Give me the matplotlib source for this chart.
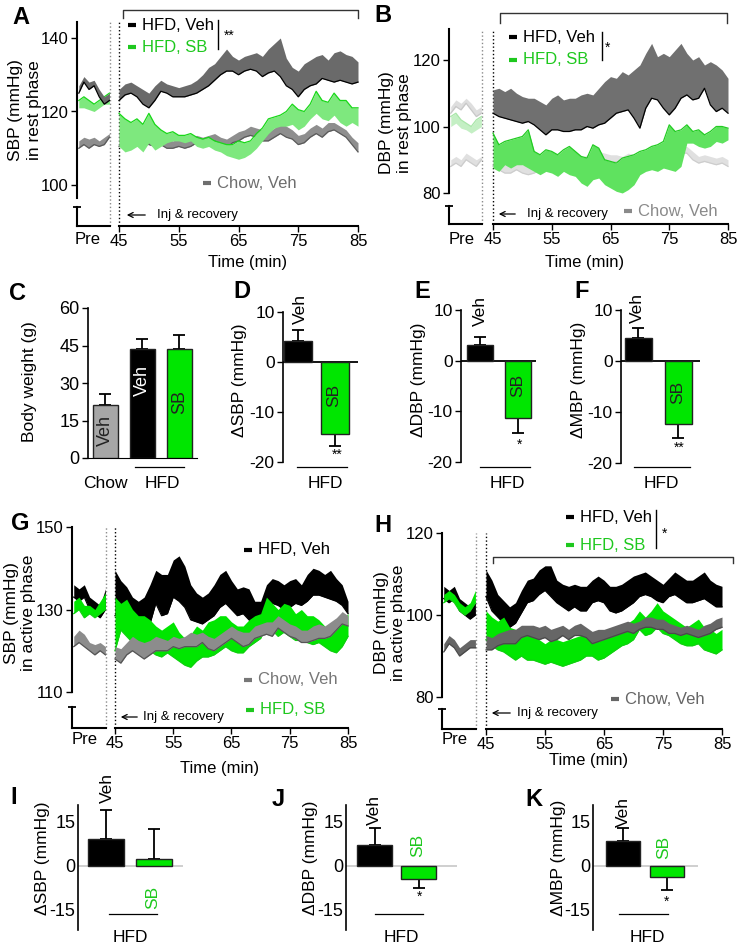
import numpy as np
import matplotlib
matplotlib.use("Agg")
import matplotlib.pyplot as plt
from matplotlib.lines import Line2D
from matplotlib.patches import FancyArrowPatch

plt.rcParams['font.family'] = ['Liberation Sans', 'DejaVu Sans']
plt.rcParams['axes.unicode_minus'] = False

# ---------------- data ----------------
MINUTES = list(range(45, 86))   # one reading per minute after the injection
PRE_N = 7                       # readings shown in the "Pre" window

# A: SBP, rest phase
A_VEH_MEAN = [123, 124.5, 125, 124, 122, 121, 123, 125.5, 125, 124,
              124, 124, 124.5, 125, 126, 127, 128.5, 130, 131, 131,
              130, 131, 131.5, 131, 129.5, 130.5, 131, 129.5, 127, 126,
              124, 126, 127, 127.5, 129, 128.5, 128, 128.5, 128, 127.5, 128]
A_VEH_HI = [126, 127.5, 128, 127, 126, 125, 127, 128.5, 127.5, 127,
            126.5, 127, 127.5, 128.5, 130, 132, 133, 135, 137, 135,
            134, 135, 135.5, 136, 135, 137, 138.5, 140, 134.5, 132,
            131, 133, 134, 135, 135.5, 134, 136, 136.5, 135.5, 135, 133.5]
A_SB_MEAN = [119.5, 118, 117, 118, 116.5, 119.5, 116.5, 115, 114, 114.5,
             113.5, 113.5, 114, 113, 112.5, 113, 112, 111.5, 111, 111,
             112, 111.5, 112, 114, 115.5, 118, 118.5, 119, 120, 122,
             120.5, 120, 122, 125.5, 123, 122.5, 125, 123, 123, 121, 121]
A_SB_LO = [110.5, 109, 109.5, 110.5, 109, 111.5, 109.5, 110.5, 111.5, 112,
           112, 111.5, 112, 110.5, 110, 110.5, 109.5, 109, 108, 107.5,
           107, 107.5, 108.5, 110, 112, 114, 115.5, 116, 116, 116.5,
           115, 116, 118, 119.5, 118, 117.5, 119, 117, 116, 117, 116]
A_CHOW_MEAN = [110.5, 111, 111, 111.5, 111.5, 111, 110.5, 111, 110, 110,
               110.5, 110, 110.5, 111.5, 111, 111.5, 112, 111, 110, 111.5,
               112, 113, 113.5, 113, 112, 112, 113, 114, 113, 112.5,
               111, 111.5, 113, 114, 113, 114.5, 115, 114, 113, 111, 109]
A_CHOW_HI = [114, 115, 115.5, 114.5, 114, 113.5, 113, 113, 112.5, 112,
             112.5, 112, 113, 113.5, 113, 113.5, 114, 113, 112.5, 113.5,
             114.5, 115, 116, 115.5, 115, 114.5, 115.5, 117, 116, 115,
             113.5, 114, 115.5, 116.5, 115.5, 117, 117, 116, 115, 113, 111.5]
A_PRE_VEH_MEAN = [125, 128, 126, 127, 124, 122, 123]
A_PRE_VEH_HI = [127, 129.5, 128, 128.5, 126, 124, 125]
A_PRE_SB_MEAN = [123, 124, 123, 122, 123, 124, 125]
A_PRE_SB_LO = [121, 121, 120.5, 120, 121, 122, 122]
A_PRE_CHOW_MEAN = [110, 111, 110, 111, 110.5, 111, 113]
A_PRE_CHOW_HI = [112, 113, 112.5, 113, 112, 113, 114]

# B: DBP, rest phase
B_VEH_MEAN = [104, 103, 102.5, 102, 101.5, 101, 101.5, 100.5, 99, 97.5,
              99, 99, 98.5, 98.5, 99, 99, 100, 99.5, 100.5, 101,
              102.5, 104, 104.5, 105, 102.5, 99.5, 105.5, 108.5, 108, 105.5,
              103.5, 105.5, 108.5, 109.5, 108, 108.5, 111.5, 106.5, 104.5, 105.5, 104]
B_VEH_HI = [111, 111.5, 110.5, 111.5, 110, 109, 108.5, 108.5, 107.5, 106.5,
            108.5, 109.5, 108, 108.5, 108.5, 109.5, 110, 109.5, 111.5, 113.5,
            115, 114.5, 116.5, 115.5, 117, 118.5, 122, 125, 121, 122,
            121, 123, 125, 122, 120, 121, 118.5, 119.5, 118.5, 117, 114.5]
B_SB_MEAN = [98, 94.5, 95.5, 96, 96.5, 97, 99, 92.5, 91.5, 93,
             92.5, 91.5, 93, 94, 92.5, 91, 90.5, 94.5, 93.5, 90,
             89.5, 89, 90.5, 91, 91.5, 92.5, 93, 94, 94.5, 95.5,
             100.5, 98.5, 99, 100.5, 98.5, 99, 97.5, 98.5, 100, 100, 99.5]
B_SB_LO = [87.5, 86.5, 88.5, 87.5, 88.5, 88.5, 87.5, 86.5, 85.5, 86.5,
           86, 85, 86.5, 85.5, 85, 83, 82, 84, 84.5, 82.5,
           81.5, 80.5, 80, 81, 82.5, 85.5, 86.5, 87, 86.5, 87.5,
           87, 86.5, 88, 95, 95, 94, 93.5, 94, 95.5, 95, 96]
B_CHOW_MEAN = [88, 87, 86, 86, 87, 86, 85.5, 86, 87, 88,
               88.5, 89, 89.5, 89, 89, 88.5, 89, 90, 90.5, 90,
               89, 89.5, 89, 90, 89.5, 89, 89, 89.5, 89, 88.5,
               90, 91, 92, 92, 90, 89, 89.5, 89, 88.5, 89, 88]
B_CHOW_HI = [90, 89.5, 88.5, 88, 89, 88.5, 88, 88.5, 89, 90,
             91, 91.5, 91.5, 91, 91, 90.5, 91.5, 92, 92.5, 92,
             91.5, 91.5, 91, 92, 91.5, 91, 91.5, 91.5, 91, 91,
             92, 93, 94, 94, 92.5, 91, 91.5, 91, 90.5, 91, 90]
B_PRE_VEH_MEAN = [104, 106, 105, 107, 105, 103, 104]
B_PRE_VEH_HI = [106, 108, 107, 108.5, 107, 105, 106]
B_PRE_SB_MEAN = [103, 104, 102, 101, 100, 102, 103]
B_PRE_SB_LO = [100, 101, 99.5, 99, 98, 99, 100]
B_PRE_CHOW_MEAN = [88, 89, 88, 90, 89, 88, 90]
B_PRE_CHOW_HI = [90, 91, 90, 92, 91, 90, 91]

# G: SBP, active phase
G_VEH_LO = [128.5, 130, 129, 126.5, 125, 124, 126.5, 131.5, 128.5, 129,
            133, 132, 130.5, 127.5, 127, 126.5, 127.5, 128.5, 130.5, 131.5,
            130, 128.5, 129, 127.5, 126, 124.5, 128.5, 131.5, 131, 130,
            130.5, 131.5, 131, 132, 133.5, 133.5, 133, 132.5, 132, 131, 129]
G_VEH_HI = [139.5, 137, 135.5, 133, 132, 133, 136, 139.5, 138.5, 138.5,
            142, 143, 140.5, 136, 134, 133, 134, 136, 138.5, 139.5,
            137, 135, 135.5, 135, 132, 132, 136, 137.5, 137, 136,
            137, 137.5, 136, 138.5, 140, 139.5, 138.5, 139.5, 137.5, 136, 132]
G_SB_HI = [133, 131.5, 132.5, 130, 128.5, 128.5, 127.5, 126, 125, 126,
           127, 124.5, 123, 124, 126, 125, 127, 127.5, 128.5, 128.5,
           127, 126, 126, 127.5, 128.5, 129, 133, 131.5, 130, 131.5,
           131, 129, 130, 128.5, 128.5, 127.5, 126, 124.5, 126, 127.5, 129]
G_SB_LO = [120, 125, 123.5, 122, 120, 120, 120, 119, 118.5, 119.5,
           118.5, 117.5, 116.5, 116, 117.5, 118.5, 118.5, 119, 120, 121,
           120, 119.5, 119.5, 121, 122, 123, 126, 125, 123.5, 124.5,
           123.5, 122.5, 122.5, 122, 121.5, 122, 121, 120, 119.5, 121, 123.5]
G_CHOW_HI = [121, 120.5, 122, 123.5, 122.5, 122, 122.5, 123.5, 123, 122.5,
             123.5, 123, 123.5, 124.5, 124, 124.5, 123.5, 123, 124, 125,
             126, 125, 124.5, 124.5, 126, 126.5, 127, 127, 128.5, 127.5,
             126.5, 126, 125, 125, 126, 126.5, 126, 127, 128, 129.5, 128.5]
G_CHOW_LO = [118, 117, 119, 120, 119, 118, 119, 120, 120, 120,
             121, 120.5, 121, 121, 121, 122, 120.5, 120, 121, 122,
             123, 122, 121, 121.5, 123, 123.5, 124, 123.5, 125.5, 124.5,
             123.5, 123, 122, 122, 122.5, 123, 123, 123.5, 125, 126.5, 126]
G_PRE_VEH_LO = [133, 132, 133, 130, 129, 128, 130]
G_PRE_VEH_HI = [136, 135, 136, 133, 132, 131, 135]
G_PRE_SB_LO = [129, 130, 128, 129, 128, 129, 130]
G_PRE_SB_HI = [132, 133, 131, 131, 130, 132, 134]
G_PRE_CHOW_LO = [121, 122, 121, 120, 119, 120, 119]
G_PRE_CHOW_HI = [123.5, 125, 124, 122, 121.5, 122, 121]

# H: DBP, active phase
H_VEH_LO = [104.5, 101, 99.5, 98, 97, 98, 100.5, 103, 103.5, 105,
            106, 104.5, 103, 102, 101, 102, 101, 101, 103, 103.5,
            103, 101, 100.5, 101, 102, 103, 104.5, 105, 104.5, 103.5,
            103, 104.5, 105, 104, 103, 103, 103.5, 104, 103, 102, 102]
H_VEH_HI = [111, 108.5, 105, 103.5, 102, 103, 106, 108.5, 109, 111,
            112, 112, 108.5, 107.5, 107, 107.5, 107, 107, 108.5, 109.5,
            108.5, 107, 107, 107.5, 108.5, 109.5, 110, 110.5, 109.5, 108.5,
            107.5, 109, 110.5, 109.5, 108.5, 108.5, 109.5, 110.5, 108.5, 107.5, 107]
H_SB_HI = [101, 99.5, 98.5, 99.5, 97, 96.5, 95.5, 95, 95, 94,
           93, 94, 94, 93.5, 94, 94.5, 95, 95.5, 95.5, 95,
           95.5, 96, 96.5, 97, 98, 99, 101, 99.5, 101, 103,
           101, 100, 99, 98, 97, 98, 99, 97, 96.5, 95.5, 96.5]
H_SB_LO = [94, 92.5, 91.5, 91, 90, 89, 90, 89, 89, 88.5,
           88, 88.5, 88, 87.5, 88, 88.5, 89, 90, 90, 89,
           89.5, 90.5, 91.5, 92.5, 93, 94, 96.5, 95, 95.5, 97,
           95.5, 95, 94, 93, 92.5, 92.5, 93, 91.5, 91, 90.5, 91.5]
H_CHOW_HI = [95, 94.5, 95.5, 96, 96.5, 96.5, 97.5, 97.5, 97.5, 97,
             97.5, 96.5, 97, 97.5, 96.5, 97.5, 98, 97, 96, 96.5,
             96.5, 97, 97.5, 98, 98.5, 98, 98.5, 99.5, 99.5, 99,
             99, 98, 97.5, 97, 97.5, 97, 96.5, 97.5, 98, 99, 99.5]
H_CHOW_LO = [91.5, 91.5, 92.5, 93, 93, 93, 94.5, 95, 94.5, 94,
             94.5, 93.5, 94, 95, 94, 95, 95, 94.5, 93, 93.5,
             94, 94.5, 95, 95.5, 96, 95.5, 96.5, 97, 97, 96.5,
             96.5, 95.5, 95.5, 95, 95.5, 95, 94.5, 95, 95.5, 96.5, 97]
H_PRE_VEH_LO = [104, 103, 104, 101, 100, 99, 100]
H_PRE_VEH_HI = [107, 106, 107, 104, 103, 102, 103]
H_PRE_SB_LO = [103, 104, 103, 101, 100, 101, 103]
H_PRE_SB_HI = [105, 106, 105, 103, 102, 103, 106]
H_PRE_CHOW_LO = [91, 93, 92, 90, 91, 92, 92]
H_PRE_CHOW_HI = [93, 95, 94, 92, 93, 94, 94]

# bar panels
C_GROUPS = ["Veh", "Veh", "SB"]
C_VALUES = [21.3, 43.6, 43.6]
C_ERR = [4.3, 4.2, 5.8]
D_VALUES, D_ERR = [4.2, -14.4], [2.2, 2.4]
E_VALUES, E_ERR = [3.1, -11.4], [1.6, 2.9]
F_VALUES, F_ERR = [4.6, -12.3], [1.8, 2.8]
I_VALUES, I_ERR = [9.0, 2.4], [10.3, 10.3]
J_VALUES, J_ERR = [6.9, -4.5], [6.2, 3.1]
K_VALUES, K_ERR = [8.3, -3.8], [4.5, 4.8]

GREEN = "#00e600"
GREEN_TXT = "#1ec81e"

# ---------------- figure ----------------
W, H = 743, 949
fig = plt.figure(figsize=(W / 100, H / 100), dpi=100)


def fx(x):
    return x / W


def fy(y):
    return 1 - y / H


def text(x, y, s, **kw):
    kw.setdefault("ha", "center")
    kw.setdefault("va", "center")
    fig.text(fx(x), fy(y), s, **kw)


def line(xs, ys, **kw):
    kw.setdefault("color", "k")
    kw.setdefault("lw", 1)
    fig.add_artist(Line2D([fx(v) for v in xs], [fy(v) for v in ys],
                          transform=fig.transFigure, **kw))


def arrow(x_tail, x_head, y):
    fig.add_artist(FancyArrowPatch((fx(x_tail), fy(y)), (fx(x_head), fy(y)),
                                   transform=fig.transFigure, arrowstyle="->",
                                   mutation_scale=9, lw=0.9, color="k"))


def key(x, y, label, color):
    line([x, x + 8], [y, y], color=color, lw=3, solid_capstyle="butt")
    text(x + 14, y, label, color=color, ha="left", fontsize=12)


def band(ax, x, lo, hi, face, edge, edge_on, z):
    ax.fill_between(x, lo, hi, color=face, lw=0, zorder=z)
    ax.plot(x, lo if edge_on == "lo" else hi, color=edge, lw=0.9, zorder=z + 0.5)


def ts_panel(box, yref, yticks, series):
    left, pre_end, t45, t85 = box["axis"], box["pre_end"], box["t45"], box["t85"]
    top, low, stub, base = box["top"], box["low"], box["stub"], box["base"]
    ppm = (t85 - t45) / 40.0
    (v1, p1), (v2, p2) = yref
    ppv = (p2 - p1) / (v1 - v2)

    def val(p):
        return v2 - (p - p2) / ppv

    right = t85 + 3
    ax = fig.add_axes([fx(left), fy(base), (right - left) / W, (base - top) / H])
    xlo = 45 - (t45 - left) / ppm
    xpre = 45 - (t45 - pre_end) / ppm
    ax.set_xlim(xlo, 85 + 3 / ppm)
    ax.set_ylim(val(base), val(top))
    pre_x = np.linspace(xlo + 0.3, xpre - 0.1, PRE_N)

    ax.axvline(xpre, color="#8a8a8a", ls=":", lw=1, zorder=1)
    ax.axvline(45, color="k", ls=":", lw=1, zorder=1)
    for i, s in enumerate(series):
        z = 2 + 2 * i
        band(ax, pre_x, s["pre_lo"], s["pre_hi"], s.get("pre_face", s["face"]),
             s.get("pre_edge", s["edge"]), s["on"], z)
        band(ax, MINUTES, s["lo"], s["hi"], s["face"], s["edge"], s["on"], z)

    for k in ("top", "right"):
        ax.spines[k].set_visible(False)
    ax.spines["left"].set_bounds(val(low), val(top))
    ax.spines["bottom"].set_bounds(45, 85)
    for k in ("left", "bottom"):
        ax.spines[k].set_linewidth(1.5)
    ax.plot([xlo, xlo], [val(stub), val(base)], color="k", lw=1.5, clip_on=False)
    ax.plot([xlo], [val(stub)], marker="_", ms=6, mew=1.3, color="k", clip_on=False)
    ax.plot([xlo, xpre], [val(base)] * 2, color="k", lw=1.5, clip_on=False)
    ax.set_xticks([45, 55, 65, 75, 85])
    ax.set_yticks(yticks)
    ax.tick_params(length=4, width=1, labelsize=12, pad=2)
    return ax


def bar_panel(box, ylim, centers, width, values, errs, colors, zero="k",
              tick_size=13, yticks=None, text_ticks=True):
    left, right, top, bottom = box
    ax = fig.add_axes([fx(left), fy(bottom), (right - left) / W, (bottom - top) / H])
    step = centers[1] - centers[0]
    ax.set_xlim((left - centers[0]) / step, (right - centers[0]) / step)
    ax.set_ylim(*ylim)
    x = np.arange(len(values))
    ax.bar(x, values, width=width / step, color=colors, edgecolor="#222222",
           lw=1, zorder=3)
    for i, (v, e) in enumerate(zip(values, errs)):
        yerr = [[0], [e]] if v >= 0 else [[e], [0]]
        ax.errorbar(i, v, yerr=yerr, fmt="none", ecolor="k", elinewidth=1.3,
                    capsize=4, capthick=1.3, zorder=2)
    for k in ("top", "right"):
        ax.spines[k].set_visible(False)
    if zero is not None:
        ax.spines["bottom"].set_visible(False)
        ax.axhline(0, color=zero, lw=1.3, zorder=1)
    ax.spines["left"].set_linewidth(1.2)
    ax.set_xticks([])
    if yticks is not None:
        ax.set_yticks(yticks)
    ax.tick_params(axis="y", length=4 if text_ticks else 0, width=1,
                   labelsize=tick_size, pad=2)
    return ax


# ---- A ----
ts_panel(dict(axis=77, pre_end=110, t45=119, t85=358, top=22, low=198, stub=207, base=226),
         [(140, 38), (100, 185)], [100, 120, 140],
         [dict(lo=A_CHOW_MEAN, hi=A_CHOW_HI, pre_lo=A_PRE_CHOW_MEAN, pre_hi=A_PRE_CHOW_HI,
               face="#8e8e8e", edge="#5a5a5a", on="lo"),
          dict(lo=A_SB_LO, hi=A_SB_MEAN, pre_lo=A_PRE_SB_LO, pre_hi=A_PRE_SB_MEAN,
               face="#7ee87e", edge="#18d818", on="hi"),
          dict(lo=A_VEH_MEAN, hi=A_VEH_HI, pre_lo=A_PRE_VEH_MEAN, pre_hi=A_PRE_VEH_HI,
               face="#6a6a6a", edge="k", on="lo")])
# ---- B ----
ts_panel(dict(axis=449, pre_end=482, t45=493, t85=728, top=29, low=193, stub=206, base=224),
         [(120, 60), (80, 193)], [80, 100, 120],
         [dict(lo=B_CHOW_MEAN, hi=B_CHOW_HI, pre_lo=B_PRE_CHOW_MEAN, pre_hi=B_PRE_CHOW_HI,
               face="#e0e0e0", edge="#cdcdcd", on="lo"),
          dict(lo=B_SB_LO, hi=B_SB_MEAN, pre_lo=B_PRE_SB_LO, pre_hi=B_PRE_SB_MEAN,
               face="#5fe25f", edge="#22cc22", on="hi",
               pre_face="#c4efc4", pre_edge="#a8e6a8"),
          dict(lo=B_VEH_MEAN, hi=B_VEH_HI, pre_lo=B_PRE_VEH_MEAN, pre_hi=B_PRE_VEH_HI,
               face="#707070", edge="k", on="lo",
               pre_face="#dedede", pre_edge="#c8c8c8")])
# ---- G ----
ts_panel(dict(axis=72, pre_end=106, t45=115, t85=348, top=527, low=692, stub=707, base=728),
         [(150, 527), (110, 692)], [110, 130, 150],
         [dict(lo=G_VEH_LO, hi=G_VEH_HI, pre_lo=G_PRE_VEH_LO, pre_hi=G_PRE_VEH_HI,
               face="k", edge="k", on="lo"),
          dict(lo=G_SB_LO, hi=G_SB_HI, pre_lo=G_PRE_SB_LO, pre_hi=G_PRE_SB_HI,
               face=GREEN, edge="#10d010", on="lo"),
          dict(lo=G_CHOW_LO, hi=G_CHOW_HI, pre_lo=G_PRE_CHOW_LO, pre_hi=G_PRE_CHOW_HI,
               face="#8c8c8c", edge="#555555", on="lo")])
# ---- H ----
ts_panel(dict(axis=442, pre_end=476, t45=486, t85=722, top=533, low=697, stub=709, base=729),
         [(120, 533), (80, 697)], [80, 100, 120],
         [dict(lo=H_VEH_LO, hi=H_VEH_HI, pre_lo=H_PRE_VEH_LO, pre_hi=H_PRE_VEH_HI,
               face="k", edge="k", on="lo"),
          dict(lo=H_SB_LO, hi=H_SB_HI, pre_lo=H_PRE_SB_LO, pre_hi=H_PRE_SB_HI,
               face=GREEN, edge="#10d010", on="lo"),
          dict(lo=H_CHOW_LO, hi=H_CHOW_HI, pre_lo=H_PRE_CHOW_LO, pre_hi=H_PRE_CHOW_HI,
               face="#666666", edge="#4a4a4a", on="lo")])

# ---- C ----
bar_panel((88, 197, 308, 458), (0, 60), [105, 142, 179.5], 25, C_VALUES, C_ERR,
          ["#a6a6a6", "k", GREEN], zero=None, yticks=[0, 15, 30, 45, 60])
# ---- D, E, F ----
bar_panel((283, 358, 312, 462), (-20, 10), [297.5, 335], 28, D_VALUES, D_ERR,
          ["k", GREEN], yticks=[-20, -10, 0, 10], tick_size=12.5)
bar_panel((461, 536, 310, 462), (-20, 10), [480, 517.5], 26, E_VALUES, E_ERR,
          ["k", GREEN], yticks=[-20, -10, 0, 10], tick_size=12.5)
bar_panel((621, 700, 310, 463), (-20, 10), [638, 678], 27, F_VALUES, F_ERR,
          ["k", GREEN], yticks=[-20, -10, 0, 10], tick_size=12.5)
# ---- I, J, K ----
ijk_lim = (-15 - 21 / 2.9, 15 + 17 / 2.9)
bar_panel((78, 183, 805, 930), ijk_lim, [106, 153.5], 36, I_VALUES, I_ERR,
          ["k", GREEN], zero="#cccccc", yticks=[-15, 0, 15], text_ticks=False)
bar_panel((346, 457, 805, 930), ijk_lim, [374.5, 418.5], 35, J_VALUES, J_ERR,
          ["k", GREEN], zero="#cccccc", yticks=[-15, 0, 15], text_ticks=False)
bar_panel((593, 698, 805, 930), ijk_lim, [623, 666.5], 34, K_VALUES, K_ERR,
          ["k", GREEN], zero="#cccccc", yticks=[-15, 0, 15], text_ticks=False)

# ---------------- annotations ----------------
for letter, x, y in [("A", 21, 17), ("B", 383, 15), ("C", 18, 293), ("D", 242, 292),
                     ("E", 422, 292), ("F", 582, 292), ("G", 20, 523), ("H", 383, 525),
                     ("I", 14, 797), ("J", 278, 800), ("K", 534, 800)]:
    text(x, y, letter, fontsize=17, fontweight="bold")

# time-series labels
text(25, 110, "SBP (mmHg)\nin rest phase", rotation=90, fontsize=12.5, linespacing=1.25)
text(395, 123, "DBP (mmHg)\nin rest phase", rotation=90, fontsize=12.5, linespacing=1.25)
text(20, 613, "SBP (mmHg)\nin active phase", rotation=90, fontsize=12.5, linespacing=1.2)
text(390, 623, "DBP (mmHg)\nin active phase", rotation=90, fontsize=12.5, linespacing=1.2)
for x, y in [(248, 262), (585, 262), (220, 768), (589, 760)]:
    text(x, y, "Time (min)", fontsize=12)
for x, y in [(88, 240), (462, 240), (85, 740), (455, 740)]:
    text(x, y, "Pre", fontsize=12)

# injection arrows
for x_tail, x_head, y, xt in [(148, 124, 215, 157), (518, 496, 214, 527),
                              (140, 118, 717, 143), (513, 489, 713, 517)]:
    arrow(x_tail, x_head, y)
    text(xt, y, "Inj & recovery", ha="left", fontsize=9.5)

# legends
key(128, 25, "HFD, Veh", "k")
key(128, 47, "HFD, SB", GREEN_TXT)
key(203, 183, "Chow, Veh", "#6e6e6e")
key(509, 37, "HFD, Veh", "k")
key(509, 60, "HFD, SB", GREEN_TXT)
key(624, 211, "Chow, Veh", "#8a8a8a")
key(244, 550, "HFD, Veh", "k")
key(244, 680, "Chow, Veh", "#777777")
key(246, 710, "HFD, SB", GREEN_TXT)
key(566, 517, "HFD, Veh", "k")
key(566, 545, "HFD, SB", GREEN_TXT)
key(611, 699, "Chow, Veh", "#666666")

# significance marks on the time series
line([123, 123, 358, 358], [18, 10, 10, 18], color="#333333")
line([500, 500, 727, 727], [23, 13, 13, 23], color="#333333")
line([493, 493, 733, 733], [563, 557, 557, 563], color="#333333")
line([218, 218], [20, 49])
text(229, 36, "**", fontsize=10)
line([602, 602], [32, 60])
text(608, 48, "*", fontsize=10)
line([656, 656], [510, 548])
text(665, 534, "*", fontsize=10)

# bar panel labels
text(30, 382, "Body weight (g)", rotation=90, fontsize=12.5)
text(240, 380, "\u0394SBP (mmHg)", rotation=90, fontsize=12.5)
text(418, 380, "\u0394DBP (mmHg)", rotation=90, fontsize=12.5)
text(578, 380, "\u0394MBP (mmHg)", rotation=90, fontsize=12.5)
text(42, 858, "\u0394SBP (mmHg)", rotation=90, fontsize=12.5)
text(311, 858, "\u0394DBP (mmHg)", rotation=90, fontsize=12.5)
text(559, 858, "\u0394MBP (mmHg)", rotation=90, fontsize=12.5)

# group labels under the bars
text(105, 483, "Chow", fontsize=12.5)
for x, y, x0, x1, ly in [(162, 483, 135, 184, 467), (325, 483, 297, 347, 467),
                         (507, 483, 480, 530, 467), (661, 483, 634, 690, 467),
                         (130, 938, 109, 157, 914), (401, 938, 375, 423, 914),
                         (647, 938, 619, 668, 914)]:
    text(x, y, "HFD", fontsize=12.5)
    line([x0, x1], [ly, ly], lw=0.9)

# labels in and above bars
text(105, 430, C_GROUPS[0], rotation=90, fontsize=13, color="#222222")
text(142, 381, C_GROUPS[1], rotation=90, fontsize=13, color="white")
text(180, 402, C_GROUPS[2], rotation=90, fontsize=13, color="#222222")
for x, y in [(300, 309), (480, 311), (637, 308), (107, 788), (374, 810), (623, 812)]:
    text(x, y, "Veh", rotation=90, fontsize=12.5)
for x, y in [(334, 395), (518, 385), (678, 392)]:
    text(x, y, "SB", rotation=90, fontsize=12.5, color="#222222")
for x, y in [(153, 897), (418, 845), (664, 847)]:
    text(x, y, "SB", rotation=90, fontsize=12.5, color=GREEN_TXT)
for x, y, s in [(337, 455, "**"), (520, 445, "*"), (679, 448, "**"),
                (420, 897, "*"), (667, 902, "*")]:
    text(x, y, s, fontsize=10)

fig.savefig("out.png", dpi=100)
